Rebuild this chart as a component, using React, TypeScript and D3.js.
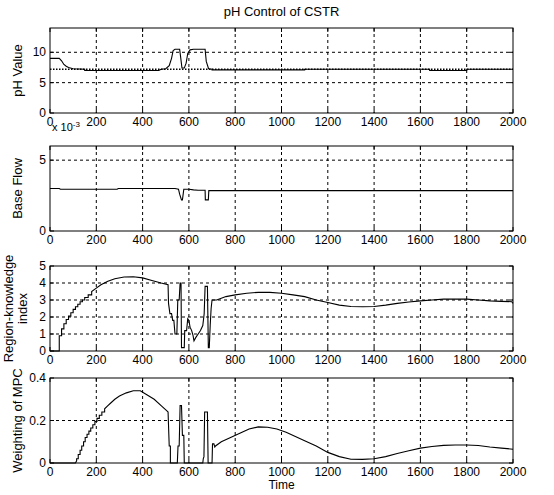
import React from "react";
import * as d3 from "d3";

const W = 554;
const H = 495;
const xTicks = [0, 200, 400, 600, 800, 1000, 1200, 1400, 1600, 1800, 2000];

// pH value
const phT = [0, 40, 50, 60, 70, 80, 100, 150, 150, 470, 480, 500, 515, 525, 532, 540, 560, 565, 570, 580, 588, 595, 605, 620, 670, 675, 685, 700, 700, 1100, 1100, 1640, 1640, 1800, 1800, 2000];
const phV = [9.0, 9.0, 8.6, 8.0, 7.7, 7.5, 7.3, 7.2, 7.0, 7.0, 7.2, 7.3, 7.8, 9.0, 10.3, 10.5, 10.5, 9.0, 7.4, 7.4, 8.2, 9.8, 10.4, 10.5, 10.5, 8.5, 7.3, 7.2, 7.1, 7.1, 7.2, 7.2, 7.0, 7.0, 7.2, 7.2];
const spT = [0, 2000];
const spV = [7.2, 7.2];

// base flow (x 10^-3)
const bfT = [0, 40, 45, 290, 295, 540, 555, 560, 568, 572, 578, 600, 620, 640, 670, 671, 684, 686, 700, 2000];
const bfV = [3.0, 3.0, 2.95, 2.95, 3.0, 3.0, 2.95, 2.6, 2.2, 2.2, 2.95, 2.95, 2.9, 2.88, 2.88, 2.2, 2.2, 2.85, 2.85, 2.85];

// region-knowledge index
const riT = [0, 40, 40, 50, 50, 60, 60, 70, 70, 80, 80, 90, 90, 100, 100, 110, 110, 120, 120, 130, 130, 140, 140, 150, 150, 165, 165, 180, 180, 200, 220, 250, 280, 320, 360, 400, 440, 480, 510, 512, 518, 525, 530, 535, 540, 548, 552, 558, 562, 566, 568, 572, 580, 582, 590, 595, 600, 605, 612, 618, 622, 630, 640, 650, 660, 666, 670, 672, 680, 684, 688, 692, 696, 700, 705, 720, 760, 800, 850, 900, 950, 1000, 1050, 1100, 1150, 1200, 1250, 1300, 1350, 1400, 1450, 1500, 1550, 1600, 1650, 1700, 1750, 1800, 1850, 1900, 1950, 1995, 2000];
const riV = [0, 0, 0.9, 0.9, 1.3, 1.3, 1.6, 1.6, 1.85, 1.85, 2.05, 2.05, 2.25, 2.25, 2.45, 2.45, 2.6, 2.6, 2.75, 2.75, 2.9, 2.9, 3.0, 3.0, 3.15, 3.15, 3.3, 3.3, 3.5, 3.7, 3.9, 4.1, 4.25, 4.35, 4.37, 4.3, 4.15, 4.0, 3.9, 2.8, 2.2, 2.2, 1.8, 1.8, 1.0, 1.0, 3.0, 3.0, 4.0, 4.0, 0.2, 0.2, 0.2, 1.2, 1.2, 1.9, 1.8, 1.4, 1.2, 0.9, 0.6, 0.8, 1.0, 1.2, 1.5, 2.2, 3.8, 3.8, 3.8, 0.2, 0.2, 1.5, 2.5, 3.0, 3.0, 3.0, 3.2, 3.3, 3.4, 3.45, 3.45, 3.4, 3.3, 3.2, 3.0, 2.85, 2.7, 2.62, 2.6, 2.62, 2.7, 2.8, 2.88, 2.95, 3.0, 3.05, 3.05, 3.05, 3.0, 2.95, 2.92, 2.9, 2.8];

// weighting of MPC
const wT = [0, 110, 115, 115, 122, 122, 130, 130, 137, 137, 145, 145, 152, 152, 160, 160, 168, 168, 176, 176, 185, 185, 194, 194, 203, 203, 213, 213, 224, 224, 236, 236, 250, 260, 280, 300, 330, 360, 390, 420, 450, 480, 505, 510, 515, 520, 520, 550, 553, 558, 562, 568, 572, 578, 580, 660, 662, 665, 668, 680, 683, 690, 700, 702, 708, 712, 715, 740, 780, 820, 860, 900, 940, 980, 1020, 1060, 1100, 1150, 1200, 1250, 1300, 1350, 1400, 1450, 1500, 1550, 1600, 1650, 1700, 1750, 1800, 1850, 1900, 1950, 2000];
const wV = [0, 0, 0.01, 0.02, 0.02, 0.04, 0.04, 0.06, 0.06, 0.08, 0.08, 0.1, 0.1, 0.12, 0.12, 0.135, 0.135, 0.15, 0.15, 0.165, 0.165, 0.18, 0.18, 0.195, 0.195, 0.21, 0.21, 0.225, 0.225, 0.24, 0.24, 0.255, 0.27, 0.28, 0.3, 0.315, 0.33, 0.34, 0.34, 0.32, 0.3, 0.27, 0.245, 0.24, 0.08, 0.08, 0, 0, 0.08, 0.08, 0.27, 0.27, 0.13, 0.13, 0, 0, 0.02, 0.03, 0.24, 0.24, 0, 0, 0, 0.09, 0.09, 0.075, 0.08, 0.1, 0.12, 0.14, 0.16, 0.17, 0.168, 0.16, 0.145, 0.125, 0.105, 0.08, 0.05, 0.03, 0.018, 0.017, 0.02, 0.03, 0.045, 0.058, 0.07, 0.078, 0.083, 0.085, 0.085, 0.082, 0.075, 0.07, 0.065];

type Series = { t: number[]; v: number[]; dash?: string; width?: number };
type Panel = {
  top: number;
  bottom: number;
  yMax: number;
  yTicks: number[];
  yLabels: string[];
  yTitle: string[];
  series: Series[];
};

const L = 50;
const R = 513;

const panels: Panel[] = [
  { top: 28, bottom: 113, yMax: 14, yTicks: [0, 5, 10], yLabels: ["0", "5", "10"], yTitle: ["pH Value"], series: [{ t: spT, v: spV, dash: "1.5,1.5", width: 1.6 }, { t: phT, v: phV }] },
  { top: 146, bottom: 231, yMax: 6, yTicks: [0, 5], yLabels: ["0", "5"], yTitle: ["Base Flow"], series: [{ t: bfT, v: bfV }] },
  { top: 266, bottom: 351, yMax: 5, yTicks: [0, 1, 2, 3, 4, 5], yLabels: ["0", "1", "2", "3", "4", "5"], yTitle: ["Region-knowledge", "index"], series: [{ t: riT, v: riV }] },
  { top: 378, bottom: 463, yMax: 0.4, yTicks: [0, 0.2, 0.4], yLabels: ["0", "0.2", "0.4"], yTitle: ["Weighting of MPC"], series: [{ t: wT, v: wV }] },
];

const font = "'Liberation Sans', Arial, sans-serif";

export default function App() {
  const x = d3.scaleLinear().domain([0, 2000]).range([L, R]);
  return (
    <svg width={W} height={H} style={{ position: "absolute", left: 0, top: 0, background: "#fff" }} fontFamily={font}>
      <rect x={0} y={0} width={W} height={H} fill="#fff" />
      <text x={(L + R) / 2} y={16} textAnchor="middle" fontSize={13}>pH Control of CSTR</text>
      {panels.map((p, i) => {
        const y = d3.scaleLinear().domain([0, p.yMax]).range([p.bottom, p.top]);
        const cy = (p.top + p.bottom) / 2;
        return (
          <g key={i}>
            {xTicks.slice(1, -1).map((t) => (
              <line key={"gx" + t} x1={x(t)} x2={x(t)} y1={p.top} y2={p.bottom} stroke="#000" strokeWidth={1} strokeDasharray="3,3" />
            ))}
            {p.yTicks.filter((v) => v > 0 && v < p.yMax).map((v) => (
              <line key={"gy" + v} x1={L} x2={R} y1={y(v)} y2={y(v)} stroke="#000" strokeWidth={1} strokeDasharray="3,3" />
            ))}
            {p.series.map((s, k) => {
              const pts: [number, number][] = s.t.map((t, j) => [x(t), y(s.v[j])]);
              const d = d3.line()(pts) || "";
              return <path key={k} d={d} fill="none" stroke="#000" strokeWidth={s.width ?? 1.1} strokeDasharray={s.dash} />;
            })}
            <rect x={L} y={p.top} width={R - L} height={p.bottom - p.top} fill="none" stroke="#000" strokeWidth={1} />
            {xTicks.map((t) => (
              <g key={"xt" + t}>
                <line x1={x(t)} x2={x(t)} y1={p.bottom} y2={p.bottom - 4} stroke="#000" />
                <line x1={x(t)} x2={x(t)} y1={p.top} y2={p.top + 4} stroke="#000" />
                <text x={x(t)} y={p.bottom + 13} textAnchor="middle" fontSize={12}>{t}</text>
              </g>
            ))}
            {p.yTicks.map((v, k) => (
              <g key={"yt" + v}>
                <line x1={L} x2={L + 4} y1={y(v)} y2={y(v)} stroke="#000" />
                <line x1={R} x2={R - 4} y1={y(v)} y2={y(v)} stroke="#000" />
                <text x={L - 4} y={y(v) + 4} textAnchor="end" fontSize={12}>{p.yLabels[k]}</text>
              </g>
            ))}
            <text transform={`translate(${p.yTitle.length > 1 ? 13 : 22},${cy}) rotate(-90)`} textAnchor="middle" fontSize={13}>
              {p.yTitle.map((s, k) => (
                <tspan key={k} x={0} dy={k === 0 ? 0 : 14}>{s}</tspan>
              ))}
            </text>
          </g>
        );
      })}
      <text x={L + 2} y={131} fontSize={11}>x 10<tspan dy={-4} fontSize={8}>-3</tspan></text>
      <text x={(L + R) / 2} y={489} textAnchor="middle" fontSize={12}>Time</text>
    </svg>
  );
}
